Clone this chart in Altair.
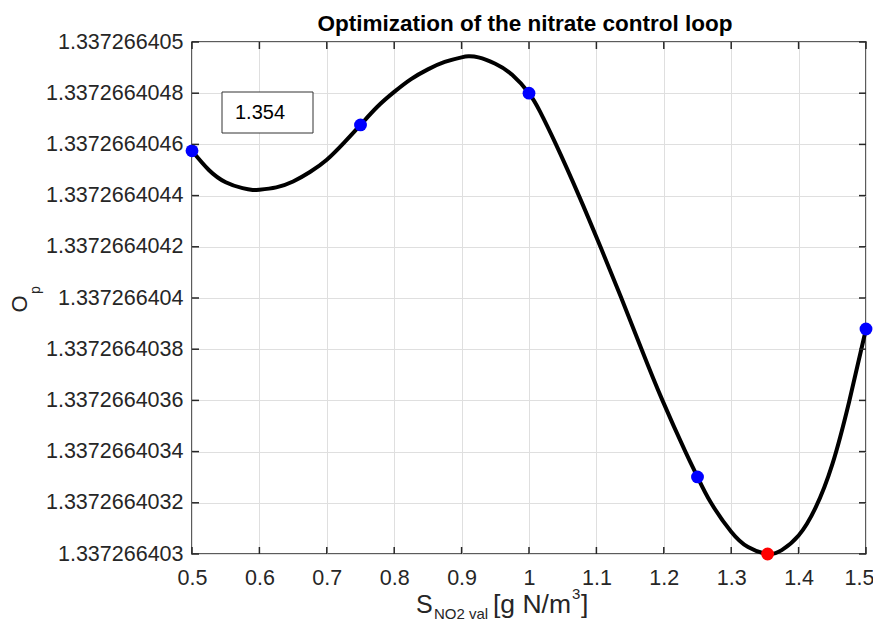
import altair as alt
import pandas as pd

# ---- data ----
x_curve = [0.5, 0.525, 0.55, 0.575, 0.59, 0.6, 0.625, 0.65, 0.675, 0.7, 0.725, 0.75,
           0.775, 0.8, 0.825, 0.85, 0.875, 0.9, 0.91, 0.925, 0.95, 0.975, 1.0, 1.016,
           1.04, 1.074, 1.106, 1.137, 1.167, 1.198, 1.232, 1.25, 1.27, 1.3, 1.325,
           1.354, 1.375, 1.4, 1.425, 1.45, 1.475, 1.5]
y_curve = [1.337266404575, 1.337266404500, 1.337266404452, 1.337266404429, 1.337266404422,
           1.337266404423, 1.337266404432, 1.337266404455, 1.337266404492, 1.337266404540,
           1.337266404605, 1.337266404676, 1.337266404747, 1.337266404805, 1.337266404855,
           1.337266404893, 1.337266404922, 1.337266404940, 1.337266404944, 1.337266404940,
           1.337266404915, 1.337266404872, 1.337266404800, 1.337266404730, 1.337266404600,
           1.337266404400, 1.337266404200, 1.337266404000, 1.337266403800, 1.337266403600,
           1.337266403400, 1.337266403301, 1.337266403200, 1.337266403087, 1.337266403027,
           1.337266403000, 1.337266403015, 1.337266403072, 1.337266403180, 1.337266403350,
           1.337266403595, 1.337266403879]
x_points = [0.5, 0.75, 1.0, 1.25, 1.5]
y_points = [1.337266404575, 1.337266404676, 1.337266404800, 1.337266403301, 1.337266403879]
x_opt = [1.354]
y_opt = [1.337266403000]
x_ticks = [0.5, 0.6, 0.7, 0.8, 0.9, 1.0, 1.1, 1.2, 1.3, 1.4, 1.5]
y_ticks = [1.337266403, 1.3372664032, 1.3372664034, 1.3372664036, 1.3372664038,
           1.337266404, 1.3372664042, 1.3372664044, 1.3372664046, 1.3372664048,
           1.337266405]
title_text = "Optimization of the nitrate control loop"

W, H = 674, 512
FONT = "Liberation Sans"
INK = "#262626"
TICKFS = 21.5

curve_df = pd.DataFrame({"x": x_curve, "y": y_curve})
pts_df = pd.DataFrame({"x": x_points, "y": y_points})
opt_df = pd.DataFrame({"x": x_opt, "y": y_opt})
yt_df = pd.DataFrame({"y": y_ticks})
xt_df = pd.DataFrame({"x": x_ticks})
one = pd.DataFrame({"k": [0]})

xs = alt.Scale(domain=[0.5, 1.5], nice=False, zero=False)
ys = alt.Scale(domain=[y_ticks[0], y_ticks[-1]], nice=False, zero=False)

x_axis = alt.Axis(values=x_ticks, format="~g", grid=True, ticks=False, domain=False,
                  labelPadding=13, title=None, labelFontSize=TICKFS, labelColor=INK,
                  labelFont=FONT, gridColor="#dfdfdf", gridWidth=1,
                  labelFlush=False, labelOverlap=False, labelBound=False,
                  labelOffset={"condition": {"test": "datum.value >= 1.49", "value": -7},
                               "value": 0})
y_axis = alt.Axis(values=y_ticks, format=".11~g", grid=True, ticks=False, domain=False,
                  labelPadding=9, title=None, labelFontSize=TICKFS, labelColor=INK,
                  labelFont=FONT, gridColor="#dfdfdf", gridWidth=1,
                  labelFlush=False, labelOverlap=False)

curve = alt.Chart(curve_df).mark_line(color="black", strokeWidth=4,
                                      interpolate="natural").encode(
    x=alt.X("x:Q", scale=xs, axis=x_axis),
    y=alt.Y("y:Q", scale=ys, axis=y_axis),
)

pts = alt.Chart(pts_df).mark_circle(size=165, color="#0000ff", opacity=1).encode(
    x=alt.X("x:Q", scale=xs), y=alt.Y("y:Q", scale=ys))
opt = alt.Chart(opt_df).mark_circle(size=165, color="#ff0000", opacity=1).encode(
    x=alt.X("x:Q", scale=xs), y=alt.Y("y:Q", scale=ys))

tick_style = dict(color=INK, strokeWidth=1.5)
yt_left = alt.Chart(yt_df).mark_rule(**tick_style).encode(
    y=alt.Y("y:Q", scale=ys), x=alt.value(0), x2=alt.value(7))
yt_right = alt.Chart(yt_df).mark_rule(**tick_style).encode(
    y=alt.Y("y:Q", scale=ys), x=alt.value(W - 7), x2=alt.value(W))
xt_bot = alt.Chart(xt_df).mark_rule(**tick_style).encode(
    x=alt.X("x:Q", scale=xs), y=alt.value(H - 7), y2=alt.value(H))
xt_top = alt.Chart(xt_df).mark_rule(**tick_style).encode(
    x=alt.X("x:Q", scale=xs), y=alt.value(0), y2=alt.value(7))

box = alt.Chart(one).mark_rect(fill="white", stroke="#333333", strokeWidth=1).encode(
    x=alt.value(30), x2=alt.value(121), y=alt.value(50), y2=alt.value(91))
box_txt = alt.Chart(opt_df).mark_text(align="left", baseline="middle", font=FONT,
                                      fontSize=20, color="black").encode(
    text=alt.Text("x:Q", format=".3f"), x=alt.value(43), y=alt.value(71))

title = alt.Chart(one).mark_text(align="center", baseline="alphabetic", font=FONT,
                                 fontSize=22.5, fontWeight="bold", color="black").encode(
    text=alt.value(title_text), x=alt.value(333), y=alt.value(-11))

def label(txt, x, y, size, angle=0, align="left", baseline="alphabetic"):
    return alt.Chart(one).mark_text(align=align, baseline=baseline, font=FONT,
                                    fontSize=size, color=INK, angle=angle).encode(
        text=alt.value(txt), x=alt.value(x), y=alt.value(y))

xl = [
    label("S", 224, 571, 25),
    label("NO2 val", 242, 577, 15),
    label("[g N/m", 301, 571, 26.5),
    label("3", 380, 557, 15),
    label("]", 389, 571, 26.5),
]
yl = [
    label("O", -172, 262, 22, angle=270, align="center", baseline="middle"),
    label("p", -156, 248, 14, angle=270, align="center", baseline="middle"),
]

chart = alt.layer(curve, pts, opt, yt_left, yt_right, xt_bot, xt_top, box, box_txt,
                  title, *xl, *yl).properties(
    width=W, height=H,
    autosize=alt.AutoSizeParams(type="none"),
    padding={"left": 184, "top": 34, "right": 7, "bottom": 68},
    background="white",
).configure_view(stroke=INK, strokeWidth=1.5)

chart.save("out.html", embed_options={"renderer": "svg", "actions": False})
